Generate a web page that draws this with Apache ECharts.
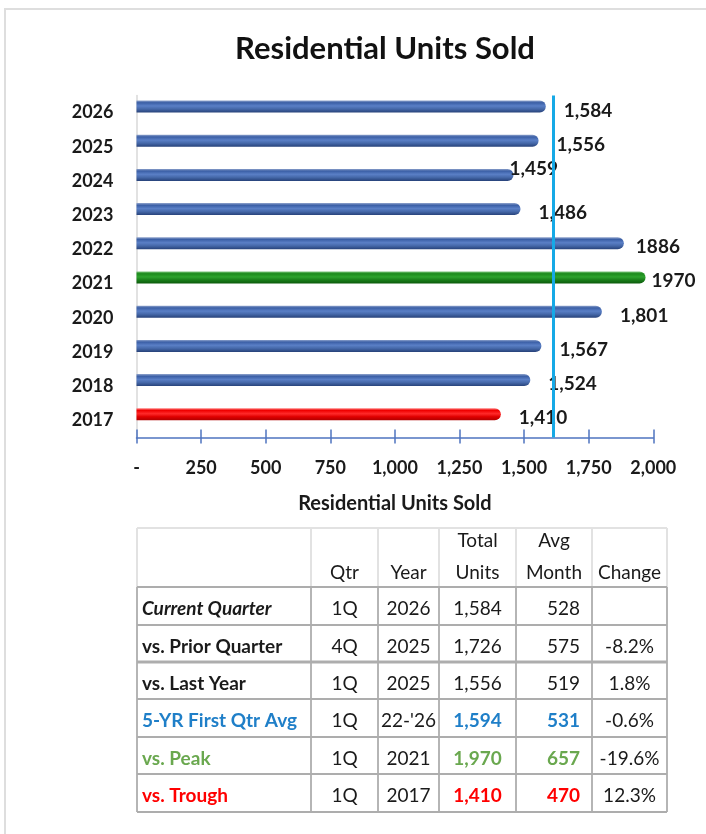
<!DOCTYPE html>
<html>
<head>
<meta charset="utf-8">
<script src="https://cdn.jsdelivr.net/npm/echarts@6/dist/echarts.min.js"></script>
<style>
  html, body { margin: 0; padding: 0; background: #ffffff; }
  #chart { width: 706px; height: 834px; }
</style>
</head>
<body>
<div id="chart"></div>
<script>
// ---------------- data ----------------
const categories = ['2017', '2018', '2019', '2020', '2021', '2022', '2023', '2024', '2025', '2026'];
const unitsSold = [1410, 1524, 1567, 1801, 1970, 1886, 1486, 1459, 1556, 1584];
const valueLabels = ['1,410', '1,524', '1,567', '1,801', '1970', '1886', '1,486', '1,459', '1,556', '1,584'];
const xTickLabels = ['-', '250', '500', '750', '1,000', '1,250', '1,500', '1,750', '2,000'];
const avgLineValue = 1612;

const headerLine1 = ['', '', '', 'Total', 'Avg', ''];
const headerLine2 = ['', 'Qtr', 'Year', 'Units', 'Month', 'Change'];
const rowLabels = ['Current Quarter', 'vs. Prior Quarter', 'vs. Last Year', '5-YR First Qtr Avg', 'vs. Peak', 'vs. Trough'];
const rowQtr = ['1Q', '4Q', '1Q', '1Q', '1Q', '1Q'];
const rowYear = ['2026', '2025', '2025', "22-'26", '2021', '2017'];
const rowTotal = ['1,584', '1,726', '1,556', '1,594', '1,970', '1,410'];
const rowAvgMonth = ['528', '575', '519', '531', '657', '470'];
const rowChange = ['', '-8.2%', '1.8%', '-0.6%', '-19.6%', '12.3%'];

// ---------------- styles ----------------
const FONT = 'Lato, "Open Sans", sans-serif';
const TXT = '#1a1a1a';
const barGradients = {
  blue: ['#8FA3CC', '#3B5FA6', '#5A7FC6', '#4669AA', '#27427A'],
  green: ['#7CC47C', '#1C8A1C', '#2EA32E', '#1A7F1A', '#0C5A0C'],
  red: ['#FF8080', '#F00000', '#FF2A2A', '#E00000', '#B00000']
};
function grad(c) {
  return new echarts.graphic.LinearGradient(0, 0, 0, 1, [
    { offset: 0, color: c[0] }, { offset: 0.18, color: c[1] },
    { offset: 0.45, color: c[2] }, { offset: 0.7, color: c[3] },
    { offset: 1, color: c[4] }
  ]);
}
function barColorFor(cat) {
  if (cat === '2021') return grad(barGradients.green);
  if (cat === '2017') return grad(barGradients.red);
  return grad(barGradients.blue);
}
// label offsets (styling only)
const labelOffsetByCat = { '2024': [-22, -6], '2022': [-6, 4], '2021': [-12, 3] };

const barData = unitsSold.map((v, i) => ({
  value: v,
  itemStyle: { color: barColorFor(categories[i]) },
  label: { offset: labelOffsetByCat[categories[i]] || [0, 4] }
}));

// ---------------- table (graphic) ----------------
const colX = [137, 311, 378, 439, 516, 592, 667];
const rowY = [528, 587, 625, 662, 699, 737, 774, 812];
const TFS = 19;
const graphics = [];

// outer frame
graphics.push({ type: 'rect', shape: { x: 5, y: 9, width: 720, height: 840 },
  style: { fill: 'none', stroke: '#DEDEDE', lineWidth: 2 }, z: 0 });

// header light borders
const lightC = '#E2E2E2', darkC = '#ADADAD';
graphics.push({ type: 'line', shape: { x1: colX[0], y1: rowY[0], x2: colX[6], y2: rowY[0] }, style: { stroke: lightC, lineWidth: 2 } });
colX.forEach(x => graphics.push({ type: 'line', shape: { x1: x, y1: rowY[0], x2: x, y2: rowY[1] }, style: { stroke: lightC, lineWidth: 2 } }));
// body borders
for (let r = 1; r < rowY.length; r++) {
  graphics.push({ type: 'line', shape: { x1: colX[0], y1: rowY[r], x2: colX[6], y2: rowY[r] },
    style: { stroke: darkC, lineWidth: r === 3 ? 3 : 1.8 } });
}
colX.forEach(x => graphics.push({ type: 'line', shape: { x1: x, y1: rowY[1], x2: x, y2: rowY[7] }, style: { stroke: darkC, lineWidth: 1.8 } }));

function cellText(text, x, y, align, opts) {
  opts = opts || {};
  graphics.push({ type: 'text', x: x, y: y, z: 10,
    style: { text: text, align: align, verticalAlign: 'middle', fill: opts.fill || TXT,
      fontSize: TFS, fontFamily: FONT, fontStyle: opts.italic ? 'italic' : 'normal',
      fontWeight: opts.bold ? 'bold' : 'normal' } });
}
function colCenter(c) { return (colX[c] + colX[c + 1]) / 2; }

// header
for (let c = 1; c < 6; c++) {
  if (headerLine1[c]) cellText(headerLine1[c], colCenter(c), 541, 'center');
  if (headerLine2[c]) cellText(headerLine2[c], colCenter(c), 573, 'center');
}
const rowColors = [TXT, TXT, TXT, '#1F7FC8', '#6AA84F', '#FF0000'];
for (let r = 0; r < rowLabels.length; r++) {
  const cy = (rowY[r + 1] + rowY[r + 2]) / 2 + 3;
  const special = r >= 3;
  cellText(rowLabels[r], colX[0] + 5, cy, 'left', { italic: r === 0, bold: true, fill: rowColors[r] });
  cellText(rowQtr[r], colCenter(1), cy, 'center');
  cellText(rowYear[r], colCenter(2), cy, 'center');
  cellText(rowTotal[r], colCenter(3), cy, 'center', { fill: special ? rowColors[r] : TXT, bold: special });
  cellText(rowAvgMonth[r], colX[5] - 12, cy, 'right', { fill: special ? rowColors[r] : TXT, bold: special });
  if (rowChange[r]) cellText(rowChange[r], colCenter(5), cy, 'center');
}

// ---------------- chart ----------------
const chart = echarts.init(document.getElementById('chart'), null, { renderer: 'canvas' });
const xAxisCommon = { type: 'value', min: 0, max: 2000, interval: 250, position: 'bottom', gridIndex: 0 };
chart.setOption({
  animation: false,
  backgroundColor: '#ffffff',
  title: {
    text: 'Residential Units Sold', left: 385, top: 33, textAlign: 'center', padding: 0,
    textStyle: { fontFamily: FONT, fontWeight: 'bold', fontSize: 31, color: '#111' }
  },
  grid: { left: 136.5, right: 52.7, top: 95.4, height: 342, containLabel: false },
  xAxis: [
    Object.assign({}, xAxisCommon, {
      name: 'Residential Units Sold', nameLocation: 'middle', nameGap: 56,
      nameTextStyle: { fontFamily: FONT, fontWeight: 'bold', fontSize: 20, color: TXT },
      axisLine: { show: true, lineStyle: { color: '#4F74C0', width: 1.5 } },
      axisTick: { show: true, length: 6, lineStyle: { color: '#4F74C0', width: 1.5 } },
      axisLabel: { margin: 22, fontFamily: FONT, fontWeight: 'bold', fontSize: 18, color: TXT,
        formatter: v => xTickLabels[Math.round(v / 250)] },
      splitLine: { show: false }
    }),
    Object.assign({}, xAxisCommon, {
      axisLine: { show: false },
      axisTick: { show: true, inside: true, length: 8, lineStyle: { color: '#4F74C0', width: 1.5 } },
      axisLabel: { show: false },
      splitLine: { show: false }
    })
  ],
  yAxis: {
    type: 'category', data: categories,
    axisLine: { show: true, lineStyle: { color: '#D9D9D9', width: 1.5 } },
    axisTick: { show: false },
    axisLabel: { margin: 23, fontFamily: FONT, fontWeight: 'bold', fontSize: 18, color: TXT }
  },
  series: [
    {
      type: 'bar', xAxisIndex: 0, data: barData, barWidth: 12, barGap: '0%',
      itemStyle: { borderRadius: [0, 6, 6, 0] },
      label: {
        show: true, position: 'right', distance: 18,
        fontFamily: FONT, fontWeight: 'bold', fontSize: 19, color: TXT,
        formatter: p => valueLabels[p.dataIndex]
      },
      markLine: {
        silent: true, symbol: ['none', 'none'], label: { show: false },
        lineStyle: { color: '#16A9E6', width: 3, type: 'solid' },
        data: [{ xAxis: avgLineValue }]
      },
      z: 3
    },
    {
      type: 'bar', xAxisIndex: 0, data: categories.map(() => null), barWidth: 12,
      itemStyle: { color: 'rgba(0,0,0,0)' }, silent: true
    }
  ],
  graphic: graphics
});
</script>
</body>
</html>
